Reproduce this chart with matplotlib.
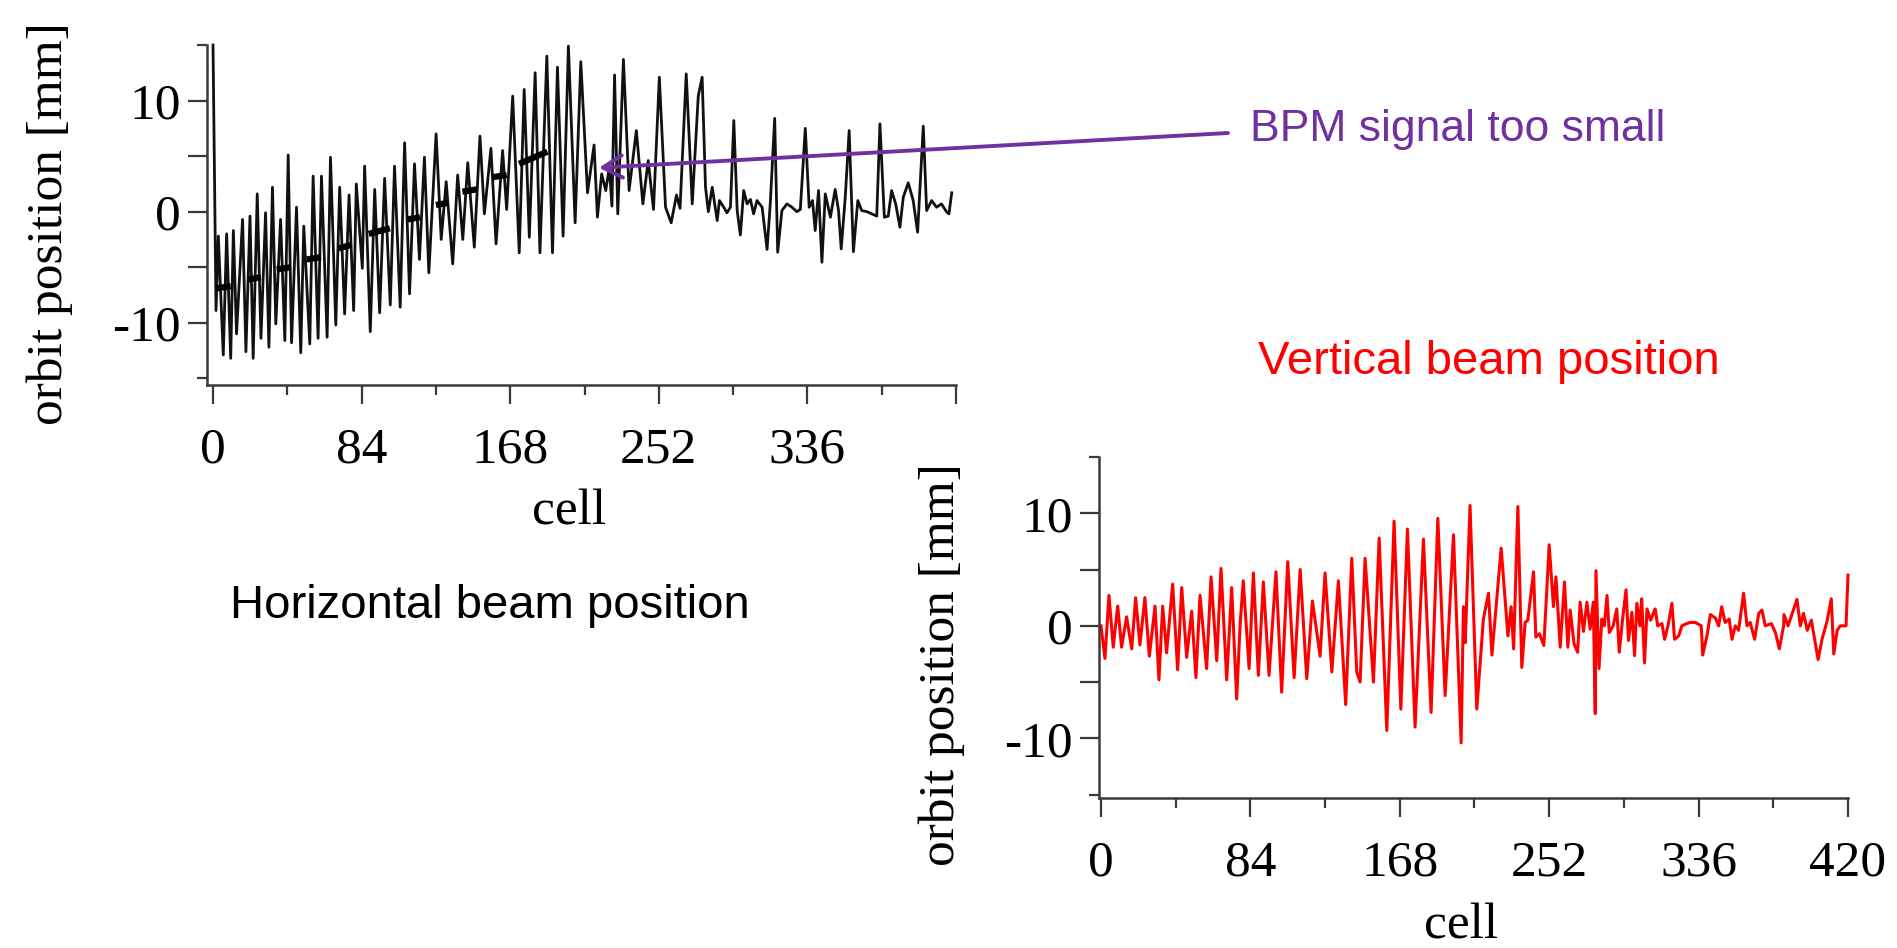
import matplotlib.pyplot as plt

plt.rcParams['font.family'] = 'Liberation Serif'

# horizontal orbit (black), vertices: cell, position [mm]
h_cell = [0, 1.7, 3.0, 5.8, 7.7, 10.0, 11.5, 13.3, 16.7, 18.6, 20.9, 22.7, 25.0, 27.1, 29.7,
          31.6, 33.6, 35.5, 38.2, 40.6, 42.5, 44.4, 47.2, 49.6, 51.3, 54.7, 56.6, 59.4, 61.3,
          64.5, 66.4, 69.4, 71.6, 74.4, 76.9, 79.5, 81.0, 84.4, 85.7, 88.9, 91.4, 94.2, 97.0,
          100.2, 102.6, 105.8, 108.3, 111.1, 113.9, 116.7, 119.5, 122.0, 126.1, 129.0, 131.8,
          135.5, 138.3, 141.2, 144.0, 147.7, 150.9, 153.4, 157.1, 160.0, 163.7, 166.0, 169.4,
          173.1, 175.9, 178.8, 182.1, 184.8, 188.7, 191.9, 194.7, 197.9, 200.9, 204.7, 207.9,
          211.7, 215.4, 217.3, 219.7, 222.0, 224.0, 225.5, 227.0, 228.8, 232.0, 235.2, 239.3,
          243.0, 246.0, 249.0, 252.3, 255.8, 259.0, 262.0, 264.0, 267.5, 270.9, 274.3, 276.5,
          278.4, 280.0, 282.2, 285.0, 286.3, 288.7, 290.5, 292.5, 294.4, 296.3, 298.1, 300.0,
          301.9, 303.8, 305.6, 307.5, 310.4, 313.2, 315.0, 317.5, 319.2, 321.6, 324.4, 327.3,
          330.0, 332.0, 334.8, 337.0, 338.9, 340.4, 342.3, 344.2, 346.1, 349.0, 351.7, 353.6,
          355.1, 357.4, 359.6, 362.0, 364.5, 366.7, 369.6, 372.4, 375.2, 377.0, 379.5, 381.7,
          383.6, 385.9, 388.3, 390.2, 393.0, 395.8, 398.3, 401.5, 403.4, 406.2, 409.0, 411.8,
          414.6, 416.0, 417.6]
h_pos = [15, -8.9, -2.2, -12.9, -2.0, -13.2, -1.7, -11.0, -0.7, -12.6, -0.4, -13.2, 1.6, -11.4,
         -0.1, -12.2, 2.2, -10.1, -0.7, -11.6, 5.1, -11.8, 0.4, -12.7, -1.3, -11.9, 3.2, -11.4,
         3.2, -11.3, 4.9, -10.2, 2.2, -9.2, 1.5, -8.9, 2.5, -5.1, 4.1, -10.8, 2.0, -9.1, 3.0,
         -8.4, 4.1, -8.6, 6.2, -7.4, 4.3, -4.3, 4.9, -5.5, 7.0, -2.5, 2.7, -4.7, 3.3, -2.5, 4.4,
         -3.2, 6.8, -0.2, 5.7, -2.9, 5.5, 0.2, 10.4, -3.7, 11.0, -2.3, 12.5, -3.7, 14.0, -3.7,
         13.0, -2.2, 14.9, -1.0, 13.5, 1.7, 6.0, -0.5, 3.4, 1.9, 4.0, 0.5, 12.3, -0.2, 13.7, 1.9,
         7.3, 0.7, 4.6, 0.2, 12.1, 0.4, -1.0, 1.5, 0.3, 12.4, 0.7, 10.4, 12.1, 2.2, 0.0, 2.2,
         -0.8, 1.0, 0.4, -0.1, 0.4, 8.2, 0.1, -2.1, 1.9, 0.7, 1.1, -0.2, 1.0, 0.4, -3.4, 0.7,
         8.4, -3.65, 0.1, 0.7, 0.4, 0.0, 0.2, 7.5, 0.4, 1.0, -1.7, 1.9, -4.55, 1.6, -0.5, 2.0,
         0.1, -3.35, 1.3, 7.3, -3.6, 1.0, 0.1, 0.0, -0.2, -0.4, 7.9, -0.5, -0.4, 1.9, 0.7, -1.4,
         1.3, 2.6, 1.0, -1.85, 7.7, 0.1, 1.0, 0.4, 0.7, 0.0, -0.2, 1.7]

# thick dashes along the horizontal trace (start/end cell and value)
dash_x0 = [2, 20, 36, 53, 71, 88, 110, 126, 141, 158, 173]
dash_x1 = [10, 27, 44, 61, 78, 100, 117, 133, 149, 166, 189]
dash_y0 = [-6.9, -6.1, -5.2, -4.3, -3.3, -2.0, -0.7, 0.6, 1.8, 3.1, 4.3]
dash_y1 = [-6.7, -5.9, -5.0, -4.1, -3.0, -1.5, -0.5, 0.8, 2.0, 3.3, 5.4]

# vertical orbit (red)
v_cell = [0, 2.25, 4.5, 6.9, 9.4, 11.6, 14.4, 17.3, 19.5, 21.9, 24.7, 27.2, 30.4, 32.6, 34.7,
          36.9, 40.3, 43.1, 45.4, 48.2, 51.0, 53.4, 55.7, 59.4, 61.9, 65.1, 67.5, 70.7, 73.5,
          76.3, 78.2, 80.0, 83.3, 85.7, 88.5, 91.3, 94.5, 98.4, 101.6, 105.0, 108.6, 112.0,
          115.7, 118.9, 123.2, 126.0, 129.8, 133.5, 137.6, 141.0, 143.8, 145.7, 148.5, 153.2,
          156.4, 160.7, 164.8, 168.6, 172.3, 176.6, 181.3, 185.6, 189.4, 193.5, 198.2, 202.5,
          203.8, 204.8, 207.5, 211.3, 215.0, 217.9, 219.8, 225.0, 228.8, 230.6, 232.0, 234.4,
          236.6, 238.5, 240.0, 243.2, 244.5, 246.5, 249.0, 252.0, 254.4, 255.8, 258.2, 260.6,
          262.5, 263.8, 266.0, 268.0, 269.4, 271.3, 273.2, 275.0, 276.8, 277.9, 278.3, 280.0,
          281.6, 283.0, 284.5, 285.8, 288.0, 290.0, 291.4, 293.2, 295.2, 296.6, 298.5, 300.0,
          301.3, 303.0, 304.0, 305.6, 307.0, 309.0, 311.6, 313.0, 315.4, 316.9, 318.8, 321.0,
          322.5, 324.8, 326.6, 329.4, 331.3, 334.1, 337.5, 338.3, 340.7, 342.6, 345.4, 347.3,
          349.0, 350.9, 353.2, 354.8, 356.6, 358.5, 361.3, 363.2, 365.0, 367.5, 369.8, 371.6,
          373.5, 376.9, 379.2, 381.4, 383.8, 384.0, 386.3, 391.3, 393.2, 395.0, 397.1, 399.4,
          403.2, 405.4, 408.2, 410.6, 412.0, 413.9, 415.7, 418.9, 420.0]
v_pos = [0.0, -2.9, 2.7, -1.9, 1.75, -1.9, 0.8, -2.05, 2.5, -1.7, 2.5, -2.7, 1.75, -4.8, 1.75,
         -2.4, 3.7, -3.9, 3.4, -2.8, 1.3, -4.6, 2.7, -3.8, 4.35, -3.1, 5.1, -4.8, 3.4, -6.5, 0.0,
         4.0, -3.8, 4.7, -4.4, 3.9, -4.4, 4.8, -5.9, 5.7, -4.6, 5.0, -4.7, 2.2, -2.7, 4.7, -4.1,
         4.0, -7.0, 6.0, -4.1, -5.0, 6.0, -5.0, 7.8, -9.3, 9.3, -7.4, 8.6, -9.0, 7.7, -7.7, 9.55,
         -6.2, 8.1, -10.4, 1.7, -1.5, 10.7, -7.4, 0.6, 2.9, -2.6, 6.9, -0.9, 1.7, -2.05, 10.6,
         -3.7, 0.3, 0.5, 4.8, -1.0, -0.7, -1.75, 7.2, 1.7, 4.35, -1.9, 3.9, -1.9, 1.4, -1.6,
         -2.35, 2.1, -0.5, 2.1, -0.3, 2.1, -7.8, 4.9, -3.8, 0.6, 0.0, 2.7, -0.6, 0.0, 1.5, -2.35,
         0.5, 3.2, -1.3, 1.2, -2.65, 2.0, 0.0, 2.4, -3.3, 1.5, 0.5, 1.5, 0.0, 0.2, -1.2, 0.0,
         2.0, -1.2, -0.9, 0.0, 0.2, 0.3, 0.3, 0.0, -2.6, -0.9, 1.0, 0.7, 0.0, 1.7, 0.3, 0.6,
         -1.2, 0.0, -0.4, 2.9, 0.0, 0.3, -1.2, 1.1, 1.4, 0.0, 0.2, -0.6, -2.05, 0.0, 1.0, 0.0,
         2.35, 0.0, 1.1, -0.4, 0.5, -3.0, -1.2, 0.4, 2.4, -2.5, -0.4, 0.0, 0.0, 4.5]

x_major = [0, 84, 168, 252, 336, 420]
x_minor = [42, 126, 210, 294, 378]
y_major = [-10, -5, 0, 5, 10]
y_labels = ['-10', '', '0', '', '10']

W, H = 1897, 948
AXIS_COLOR = '#3a3a3a'
PURPLE = '#7030a0'
SERIF_SIZE = 37


def style_axes(ax, xleft, ybottom, xlabels, ylab_y):
    ax.set_xlim(xleft, 420)
    ax.set_ylim(ybottom, 15)
    for side in ['top', 'right']:
        ax.spines[side].set_visible(False)
    for side in ['left', 'bottom']:
        ax.spines[side].set_linewidth(1.8)
        ax.spines[side].set_color(AXIS_COLOR)
    ax.set_xticks(x_major)
    ax.set_xticklabels(xlabels)
    ax.set_xticks(x_minor, minor=True)
    ax.set_yticks(y_major)
    ax.set_yticklabels(y_labels)
    ax.set_yticks([-15, 15], minor=True)
    ax.tick_params(which='both', direction='out', color=AXIS_COLOR, width=1.6)
    ax.tick_params(which='major', length=14, labelsize=SERIF_SIZE)
    ax.tick_params(which='minor', length=7)
    ax.tick_params(axis='x', which='major', pad=16)
    ax.tick_params(axis='y', which='major', pad=5)
    ax.set_xlabel('cell', fontsize=SERIF_SIZE, va='center')
    ax.xaxis.set_label_coords(0.483, -0.375)
    ax.set_ylabel('orbit position [mm]', fontsize=SERIF_SIZE, va='center')
    ax.yaxis.set_label_coords(-0.21, ylab_y)


fig = plt.figure(figsize=(W / 100, H / 100), dpi=100)
ax1 = fig.add_axes([207 / W, 1 - 385 / H, 749 / W, 340 / H])
ax2 = fig.add_axes([1099 / W, 1 - 798 / H, 749 / W, 341 / H])

ax1.plot(h_cell, h_pos, color='#111111', lw=2.0, clip_on=False)
for x0, x1, y0, y1 in zip(dash_x0, dash_x1, dash_y0, dash_y1):
    ax1.plot([x0, x1], [y0, y1], color='black', lw=4.5, solid_capstyle='butt')
style_axes(ax1, -3.4, -15.6, ['0', '84', '168', '252', '336', ''], 0.476)

ax2.plot(v_cell, v_pos, color='#ff0000', lw=2.2, clip_on=False)
style_axes(ax2, -1.1, -15.3, ['0', '84', '168', '252', '336', '420'], 0.39)

# annotation arrow and captions
ax1.annotate('', xy=(218.2, 3.95), xycoords='data',
             xytext=(1228 / W, 1 - 133 / H), textcoords='figure fraction',
             arrowprops=dict(arrowstyle='->,head_length=0.7,head_width=0.4',
                             color=PURPLE, lw=2.8, shrinkA=0, shrinkB=0,
                             mutation_scale=20))
fig.text(1250 / W, 1 - 141 / H, 'BPM signal too small', color=PURPLE, fontsize=32,
         family='Liberation Sans', ha='left', va='baseline')
fig.text(1258 / W, 1 - 374 / H, 'Vertical beam position', color='#ff0000', fontsize=34,
         family='Liberation Sans', ha='left', va='baseline')
fig.text(230 / W, 1 - 618 / H, 'Horizontal beam position', color='black', fontsize=34,
         family='Liberation Sans', ha='left', va='baseline')

fig.savefig('out.png', dpi=100, facecolor='white')
